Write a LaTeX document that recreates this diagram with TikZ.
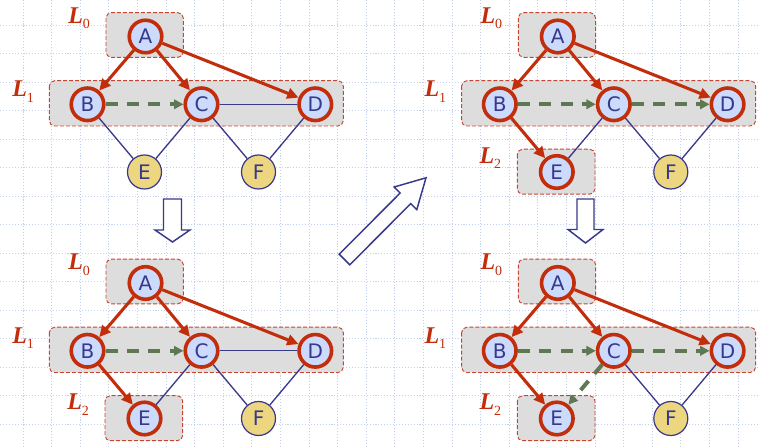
\documentclass[tikz,border=0pt]{standalone}
\usepackage{fontspec}
\setmainfont{Liberation Serif}
\setsansfont{DejaVu Sans}
\usepackage{xcolor}
\usetikzlibrary{arrows.meta}

\definecolor{treered}{RGB}{194,46,12}
\definecolor{boxred}{RGB}{196,70,50}
\definecolor{boxgray}{RGB}{221,221,221}
\definecolor{nodeblue}{RGB}{204,218,252}
\definecolor{nodeyellow}{RGB}{236,214,128}
\definecolor{edgenavy}{RGB}{56,56,140}
\definecolor{crossgreen}{RGB}{94,120,84}
\definecolor{gridblue}{RGB}{196,208,240}

\newcommand{\levelname}[1]{{\fontsize{18}{20}\selectfont\bfseries\itshape L}\raisebox{-4pt}{\fontsize{10.5}{12}\selectfont #1}}

\begin{document}
\begin{tikzpicture}[
  x=0.75pt, y=-0.75pt,
  gridline/.style={gridblue, line width=0.6pt, dash pattern=on 0.8pt off 1.4pt},
  layer/.style={draw=boxred, fill=boxgray, line width=0.7pt,
                dash pattern=on 3pt off 1.5pt, rounded corners=4pt},
  levellabel/.style={anchor=base west, inner sep=0pt, text=treered},
  vertex/.style={circle, draw=edgenavy, line width=0.9pt, fill=nodeblue,
                 minimum size=25.5pt, inner sep=0pt, text=edgenavy,
                 font=\sffamily\fontsize{15}{17}\selectfont},
  visited/.style={vertex, draw=treered, line width=2.7pt, minimum size=24.4pt},
  fresh/.style={vertex, fill=nodeyellow},
  tree/.style={treered, line width=2.3pt, -{Triangle[length=8.5pt, width=8pt]}},
  cross/.style={crossgreen, line width=3pt, dash pattern=on 9pt off 7pt,
                -{Triangle[length=7pt, width=7pt]}},
  plain/.style={edgenavy, line width=1pt},
  bigarrow/.style={draw=edgenavy, line width=1.1pt, fill=white, line join=miter}
]
  \useasboundingbox (0,0) rectangle (760,448);

  % dotted grid of the slide
  \foreach \i in {0,...,26}
    \draw[gridline] ({-5.6+28.6*\i},0) -- ++(0,448);
  \foreach \j in {0,...,16}
    \draw[gridline] (0,{-3.5+28.5*\j}) -- ++(760,0);

  % level L2, once it is reached
  \foreach \dx/\dy/\p in {412.3/0/2, 0/246.5/3, 412.3/246.5/4} {
    \begin{scope}[shift={(\dx,\dy)}]
      \draw[layer] (105,149.2) rectangle (182.7,194.2);
      \node[levellabel] (Ltwo\p) at (67,163.3) {\levelname{2}};
    \end{scope}
  }

  % the four snapshots
  \foreach \dx/\dy/\p/\emark in {0/0/1/fresh, 412.3/0/2/visited,
                                  0/246.5/3/visited, 412.3/246.5/4/visited} {
    \begin{scope}[shift={(\dx,\dy)}]
      \draw[layer] (106,12.7) rectangle (183.3,57.3);
      \draw[layer] (49.3,80.7) rectangle (343.3,126);
      \node[levellabel] (Lzero\p) at (68,23.3) {\levelname{0}};
      \node[levellabel] (Lone\p) at (12,96.7) {\levelname{1}};
      \node[visited] (A\p) at (145.5,36.5) {A};
      \node[visited] (B\p) at (87.5,104.3) {B};
      \node[visited] (C\p) at (201.5,104.3) {C};
      \node[visited] (D\p) at (315.3,104.3) {D};
      \node[\emark] (E\p) at (144.5,172) {E};
      \node[fresh] (F\p) at (258.5,172) {F};
    \end{scope}
  }

  \foreach \p in {1,...,4} {
    \draw[tree] (A\p) -- (B\p);
    \draw[tree] (A\p) -- (C\p);
    \draw[tree] (A\p) -- (D\p);
    \draw[cross] (B\p) -- (C\p);
    \draw[plain] (C\p) -- (F\p);
    \draw[plain] (D\p) -- (F\p);
  }
  \draw[plain] (C1) -- (D1);
  \draw[plain] (B1) -- (E1);
  \draw[plain] (C1) -- (E1);
  \draw[cross] (C2) -- (D2);
  \draw[tree] (B2) -- (E2);
  \draw[plain] (C2) -- (E2);
  \draw[plain] (C3) -- (D3);
  \draw[tree] (B3) -- (E3);
  \draw[plain] (C3) -- (E3);
  \draw[cross] (C4) -- (D4);
  \draw[tree] (B4) -- (E4);
  \draw[cross] (C4) -- (E4);

  % hollow arrows between the snapshots
  \draw[bigarrow] (163.5,199) -- (181.5,199) -- (181.5,230) -- (190,230)
    -- (172.5,242) -- (155,230) -- (163.5,230) -- cycle;
  \draw[bigarrow] (577,199) -- (594,199) -- (594,229.5) -- (603,229.5)
    -- (585.5,243) -- (568,229.5) -- (577,229.5) -- cycle;
  \draw[bigarrow] (339.2,254.2) -- (400.2,193) -- (394.2,187) -- (426,177.8)
    -- (416.8,209.6) -- (410.8,203.6) -- (349.8,264.8) -- cycle;
\end{tikzpicture}
\end{document}
